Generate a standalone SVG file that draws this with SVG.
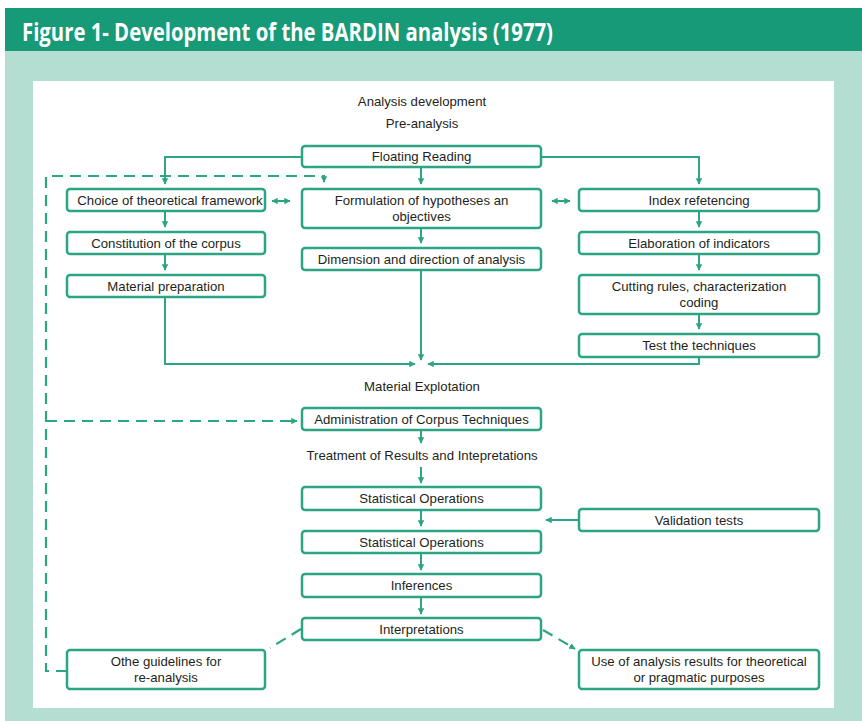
<svg xmlns="http://www.w3.org/2000/svg" width="862" height="721" viewBox="0 0 862 721">
<style>
.bx{fill:#fff;stroke:#2ba583;stroke-width:2.5}
.t{font-family:"Liberation Sans",Arial,sans-serif;font-size:13.2px;fill:#231f20;text-anchor:middle}
.c{fill:none;stroke:#2ba583;stroke-width:2}
.d{fill:none;stroke:#2ba583;stroke-width:2.2;stroke-dasharray:11,7}
</style>
<defs>
<marker id="a" viewBox="0 0 10 10" refX="9" refY="5" markerWidth="3.2" markerHeight="3.2" orient="auto-start-reverse" markerUnits="strokeWidth">
<path d="M0,0 L10,5 L0,10 z" fill="#2ba583"/>
</marker>
</defs>
<rect x="5" y="8" width="857" height="43" fill="#169a77"/>
<rect x="5" y="51" width="857" height="670" fill="#b3ded1"/>
<rect x="33" y="81" width="801" height="627" fill="#fff"/>
<text x="22" y="41" font-family="Open Sans,sans-serif" font-weight="bold" font-size="25" fill="#fff" textLength="531" lengthAdjust="spacingAndGlyphs">Figure 1- Development of the BARDIN analysis (1977)</text>

<text class="t" x="422" y="106">Analysis development</text>
<text class="t" x="422" y="128">Pre-analysis</text>
<text class="t" x="422" y="391">Material Explotation</text>
<text class="t" x="422" y="460">Treatment of Results and Intepretations</text>

<g id="connectors">
<path class="c" d="M302 157 H165 V184" marker-end="url(#a)"/>
<path class="c" d="M541 157 H699 V184" marker-end="url(#a)"/>
<path class="c" d="M421 167 V184" marker-end="url(#a)"/>
<path class="c" d="M272 201 H290" marker-start="url(#a)" marker-end="url(#a)"/>
<path class="c" d="M552 201 H570" marker-start="url(#a)" marker-end="url(#a)"/>
<path class="c" d="M165 211 V227" marker-end="url(#a)"/>
<path class="c" d="M165 254 V270" marker-end="url(#a)"/>
<path class="c" d="M421 228 V243" marker-end="url(#a)"/>
<path class="c" d="M699 211 V227" marker-end="url(#a)"/>
<path class="c" d="M699 254 V270" marker-end="url(#a)"/>
<path class="c" d="M699 314 V329" marker-end="url(#a)"/>
<path class="c" d="M165 297 V364 H415" marker-end="url(#a)"/>
<path class="c" d="M421 270 V360" marker-end="url(#a)"/>
<path class="c" d="M699 357 V364 H428" marker-end="url(#a)"/>
<path class="c" d="M421 430 V443" marker-end="url(#a)"/>
<path class="c" d="M421 467 V483" marker-end="url(#a)"/>
<path class="c" d="M421 510 V526" marker-end="url(#a)"/>
<path class="c" d="M579 520 H546" marker-end="url(#a)"/>
<path class="c" d="M421 553 V570" marker-end="url(#a)"/>
<path class="c" d="M421 597 V614" marker-end="url(#a)"/>
<path class="d" d="M67 671 H46 V176 H324 V178"/>
<path class="c" d="M324 176 V182" marker-end="url(#a)"/>
<path class="d" d="M46 421 H290"/>
<path class="c" d="M290 421 H297" marker-end="url(#a)"/>
<path class="d" d="M301 629 L270 648" stroke-dasharray="12,8"/>
<path class="d" d="M543 630 L572 647" stroke-dasharray="8,9"/>
<path class="c" d="M570 646 L575 649" marker-end="url(#a)"/>
</g>

<g id="n-floating"><rect class="bx" x="302" y="146" width="239" height="21" rx="3"/><text class="t" x="421.5" y="161">Floating Reading</text></g>
<g id="n-choice"><rect class="bx" x="67" y="189" width="198" height="22" rx="3"/><text class="t" x="170" y="204.5">Choice of theoretical framework</text></g>
<g id="n-constitution"><rect class="bx" x="67" y="232" width="198" height="22" rx="3"/><text class="t" x="166" y="247.5">Constitution of the corpus</text></g>
<g id="n-material"><rect class="bx" x="67" y="275" width="198" height="22" rx="3"/><text class="t" x="166" y="290.5">Material preparation</text></g>
<g id="n-formulation"><rect class="bx" x="302" y="189" width="239" height="39" rx="3"/><text class="t" x="421.5" y="204.5">Formulation of hypotheses an</text><text class="t" x="421.5" y="220.5">objectives</text></g>
<g id="n-dimension"><rect class="bx" x="302" y="248" width="239" height="22" rx="3"/><text class="t" x="421.5" y="263.5">Dimension and direction of analysis</text></g>
<g id="n-index"><rect class="bx" x="579" y="189" width="240" height="22" rx="3"/><text class="t" x="699" y="204.5">Index refetencing</text></g>
<g id="n-elaboration"><rect class="bx" x="579" y="232" width="240" height="22" rx="3"/><text class="t" x="699" y="247.5">Elaboration of indicators</text></g>
<g id="n-cutting"><rect class="bx" x="579" y="275" width="240" height="39" rx="3"/><text class="t" x="699" y="291">Cutting rules, characterization</text><text class="t" x="699" y="306.5">coding</text></g>
<g id="n-test"><rect class="bx" x="579" y="334" width="240" height="23" rx="3"/><text class="t" x="699" y="350">Test the techniques</text></g>
<g id="n-admin"><rect class="bx" x="302" y="408" width="239" height="22" rx="3"/><text class="t" x="421.5" y="423.5">Administration of Corpus Techniques</text></g>
<g id="n-stat1"><rect class="bx" x="302" y="487" width="239" height="23" rx="3"/><text class="t" x="421.5" y="503">Statistical Operations</text></g>
<g id="n-validation"><rect class="bx" x="579" y="509" width="240" height="22" rx="3"/><text class="t" x="699" y="524.5">Validation tests</text></g>
<g id="n-stat2"><rect class="bx" x="302" y="531" width="239" height="22" rx="3"/><text class="t" x="421.5" y="546.5">Statistical Operations</text></g>
<g id="n-inferences"><rect class="bx" x="302" y="574" width="239" height="23" rx="3"/><text class="t" x="421.5" y="590">Inferences</text></g>
<g id="n-interpretations"><rect class="bx" x="302" y="618" width="239" height="22" rx="3"/><text class="t" x="421.5" y="633.5">Interpretations</text></g>
<g id="n-other"><rect class="bx" x="67" y="650" width="198" height="39" rx="3"/><text class="t" x="166" y="666">Othe guidelines for</text><text class="t" x="166" y="682">re-analysis</text></g>
<g id="n-use"><rect class="bx" x="579" y="650" width="240" height="39" rx="3"/><text class="t" x="699" y="666">Use of analysis results for theoretical</text><text class="t" x="699" y="682">or pragmatic purposes</text></g>
</svg>
